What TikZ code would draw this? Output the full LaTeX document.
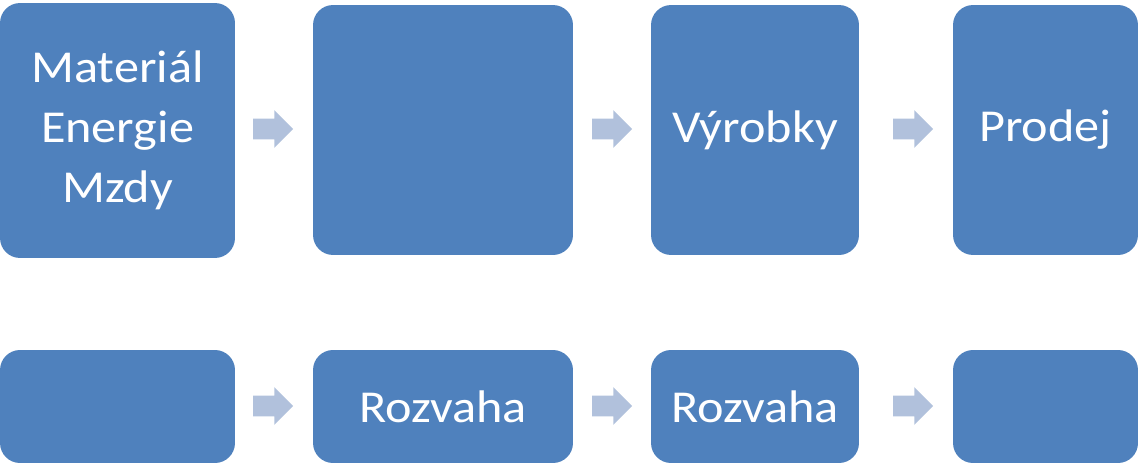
\documentclass[tikz,border=0pt]{standalone}
\usepackage{fontspec}
\setmainfont{Carlito}[FakeStretch=1.1]
\usetikzlibrary{shapes.arrows}
\definecolor{boxblue}{HTML}{4F81BD}
\definecolor{arrowgray}{HTML}{B1C1DC}
\tikzset{box/.style={fill=boxblue, draw=none, rounded corners=0.4cm, text=white, align=center, inner sep=0pt, font=\fontsize{26}{34}\selectfont}}
\tikzset{flow/.style={shape=single arrow, fill=arrowgray, draw=none, inner xsep=0pt, inner ysep=0.2cm, minimum height=0.8cm, single arrow head extend=0.17cm}}

\begin{document}
\begin{tikzpicture}[x=0.02cm, y=-0.02cm]
\useasboundingbox (0,0) rectangle (1138,466);
% horni rada
\node[box, minimum width=4.7cm, minimum height=5.1cm] (mat) at (117.5,130.5) {Materiál\\Energie\\Mzdy};
\node[box, minimum width=5.2cm, minimum height=5cm] (vyr) at (443,130) {};
\node[box, minimum width=4.16cm, minimum height=5cm] (vyrobky) at (755,130) {Výrobky};
\node[box, minimum width=3.7cm, minimum height=5cm] (prodej) at (1045.5,130) {Prodej};
% dolni rada
\node[box, minimum width=4.7cm, minimum height=2.26cm] (b1) at (117.5,406.5) {};
\node[box, minimum width=5.2cm, minimum height=2.26cm] (roz1) at (443,406.5) {Rozvaha};
\node[box, minimum width=4.16cm, minimum height=2.26cm] (roz2) at (755,406.5) {Rozvaha};
\node[box, minimum width=3.7cm, minimum height=2.26cm] (b4) at (1045.5,406.5) {};
% sipky
\node[flow] (s1) at (268,129) {};
\node[flow] (s2) at (607,129) {};
\node[flow] (s3) at (908,129) {};
\node[flow] (s4) at (268,406) {};
\node[flow] (s5) at (607,406) {};
\node[flow] (s6) at (908,406) {};
\end{tikzpicture}
\end{document}
